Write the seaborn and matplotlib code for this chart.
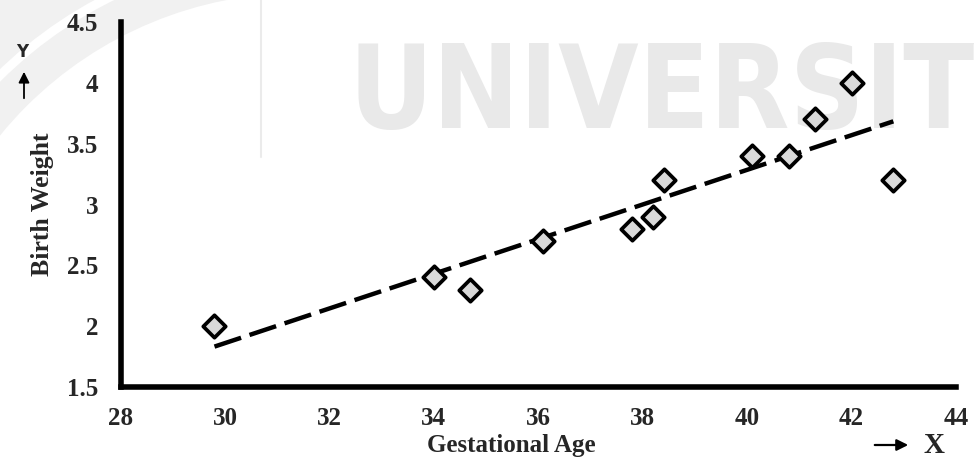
import numpy as np
import pandas as pd
import matplotlib
matplotlib.use("Agg")
import matplotlib.pyplot as plt
import seaborn as sns
from matplotlib.patches import Arc
from matplotlib import font_manager
from matplotlib.font_manager import FontProperties

gestational_age = [29.8, 34.0, 34.7, 36.1, 37.8, 38.2, 38.4, 40.1, 40.8, 41.3, 42.0, 42.8]
birth_weight = [2.0, 2.4, 2.3, 2.7, 2.8, 2.9, 3.2, 3.4, 3.4, 3.7, 4.0, 3.2]
x_ticks = [28, 30, 32, 34, 36, 38, 40, 42, 44]
y_ticks = [1.5, 2, 2.5, 3, 3.5, 4, 4.5]
y_tick_labels = ["1.5", "2", "2.5", "3", "3.5", "4", "4.5"]

df = pd.DataFrame({"Gestational Age": gestational_age, "Birth Weight": birth_weight})

sns.set_theme(style="white")
plt.rcParams["font.family"] = ["Liberation Serif", "DejaVu Serif"]

W, H = 974, 465
fig = plt.figure(figsize=(W / 100, H / 100), dpi=100)
fig.patch.set_facecolor("white")


def px(x, y):
    return (x / W, 1 - y / H)


# ---- faint watermark in the background ----
def find_condensed_bold():
    cands = []
    for f in font_manager.fontManager.ttflist:
        name = f.name.lower()
        st = str(f.stretch).lower()
        condensed = ("narrow" in name or "condensed" in name or "condensed" in st
                     or (st.isdigit() and int(st) < 500))
        w = f.weight
        bold = (w in ("bold", "heavy", "black", "semibold", "demibold")) or (
            isinstance(w, int) and w >= 600)
        if condensed and bold:
            score = 0 if "sans" in name or "roboto" in name else 1
            cands.append((score, f.fname))
    cands.sort()
    return cands[0][1] if cands else None


fpath = find_condensed_bold()
if fpath:
    wm_props = FontProperties(fname=fpath)
else:
    wm_props = FontProperties(family="Liberation Sans", weight="bold")

fig.add_artist(Arc((300, H - 380), 2 * 405, 2 * 405, theta1=90, theta2=180,
                   transform=None, linewidth=36 / 1.389, edgecolor="#f1f1f1",
                   zorder=-20))
fig.add_artist(Arc((300, H - 380), 2 * 462, 2 * 462, theta1=90, theta2=180,
                   transform=None, linewidth=60 / 1.389, edgecolor="#f1f1f1",
                   zorder=-20))
fig.add_artist(plt.Line2D([261 / W, 261 / W], [1, 1 - 157 / H], color="#ebebeb",
                          linewidth=1.5, transform=fig.transFigure, zorder=-15))
wm = fig.text(*px(349, 128), "UNIVERSITY", fontproperties=wm_props,
              color="#e9e9e9", fontsize=150, ha="left", va="baseline", zorder=-10)
probe = fig.text(*px(349, 128), "UNIVERS", fontproperties=wm_props,
                 fontsize=150, ha="left", va="baseline", alpha=0)
r = fig.canvas.get_renderer()
w = probe.get_window_extent(r).width
wm.set_fontsize(150 * 517 / w)
probe.remove()

# ---- main axes ----
ax = fig.add_axes([120.5 / W, 1 - 387 / H, 835.5 / W, 365 / H])
ax.set_facecolor("none")

sns.regplot(data=df, x="Gestational Age", y="Birth Weight", ax=ax, ci=None,
            scatter=False, truncate=True,
            line_kws=dict(color="black", linewidth=3.2, dashes=(6.3, 2.0)))
sns.scatterplot(data=df, x="Gestational Age", y="Birth Weight", ax=ax,
                marker="D", s=130, color="#d9d9d9", edgecolor="black",
                linewidth=2.7, zorder=5)

ax.set_xlim(28, 44)
ax.set_ylim(1.5, 4.5)
ax.set_xticks(x_ticks)
ax.set_xticklabels([str(t) for t in x_ticks])
ax.set_yticks(y_ticks)
ax.set_yticklabels(y_tick_labels)

for s in ["top", "right"]:
    ax.spines[s].set_visible(False)
for s in ["left", "bottom"]:
    ax.spines[s].set_linewidth(4.0)
    ax.spines[s].set_color("black")
    ax.spines[s].set_capstyle("projecting")

ax.tick_params(axis="both", which="major", direction="out", length=3.5, width=3.5,
               color="black", labelsize=18)
ax.tick_params(axis="y", pad=12.5)
ax.tick_params(axis="x", pad=11)
for lab in ax.get_xticklabels() + ax.get_yticklabels():
    lab.set_fontweight("bold")

ax.set_xlabel("")
ax.set_ylabel("")
fig.text(*px(511, 452), "Gestational Age", fontsize=18, fontweight="bold",
         ha="center", va="baseline")
fig.text(*px(42, 204), "Birth Weight", fontsize=18.5, fontweight="bold",
         ha="center", va="center", rotation=90)

# ---- axis direction indicators ----
fig.text(*px(22, 52), "Y", family="DejaVu Sans", fontsize=12, fontweight="bold",
         ha="center", va="center")
ax.annotate("", xy=px(24, 69), xytext=px(24, 101), xycoords="figure fraction",
            textcoords="figure fraction",
            arrowprops=dict(arrowstyle="-|>", color="black", lw=1.3,
                            mutation_scale=16))
ax.annotate("", xy=px(911, 445), xytext=px(872, 445), xycoords="figure fraction",
            textcoords="figure fraction",
            arrowprops=dict(arrowstyle="-|>", color="black", lw=1.6,
                            mutation_scale=17))
fig.text(*px(934, 453), "X", fontsize=21, fontweight="bold", ha="center",
         va="baseline")

fig.savefig("out.png", dpi=100)
